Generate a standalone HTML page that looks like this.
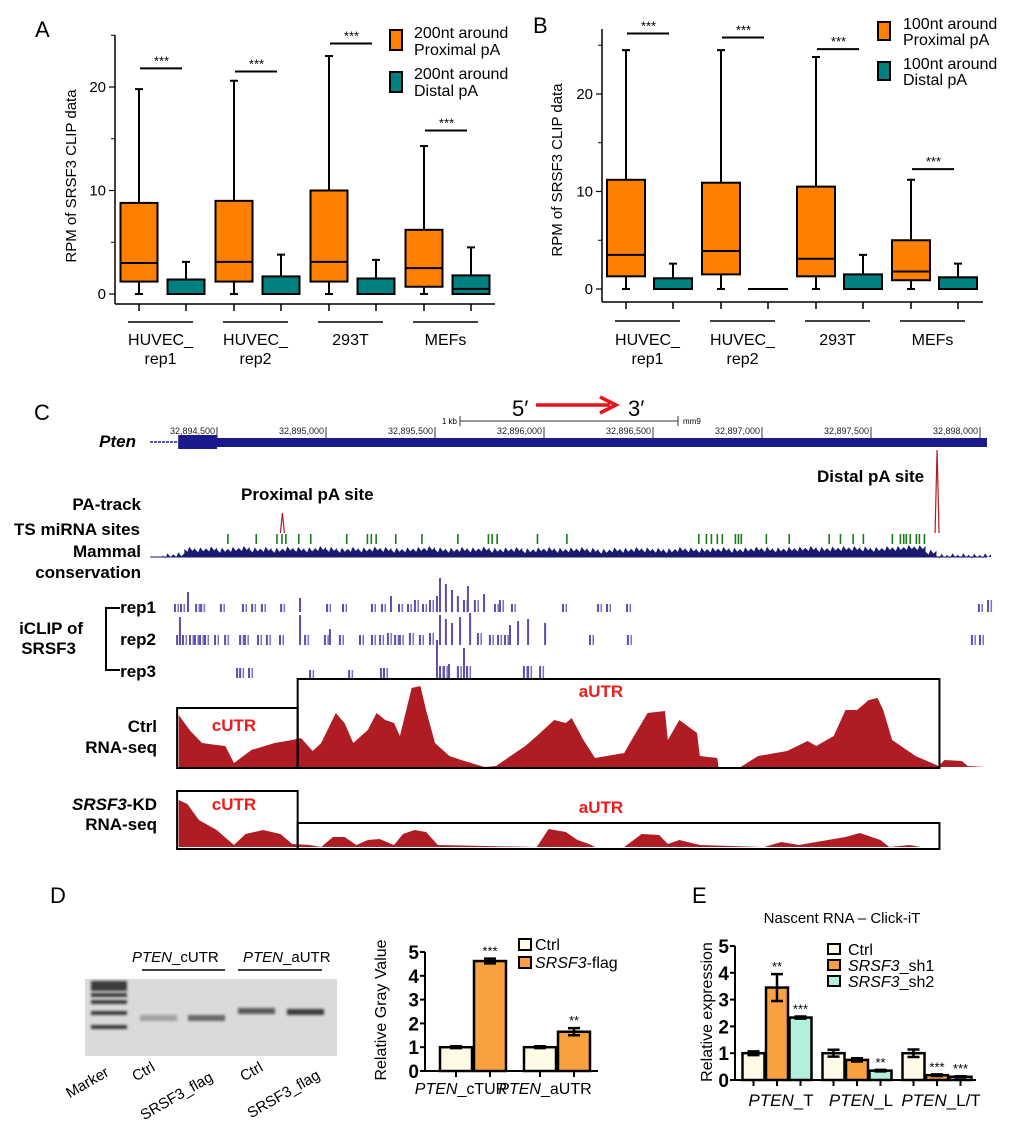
<!DOCTYPE html>
<html><head><meta charset="utf-8"><style>
body{margin:0;background:#fff}
svg{display:block;font-family:"Liberation Sans",Arial,sans-serif}
.b{font-weight:bold}
</style></head><body>
<svg id="fig" width="1020" height="1139" viewBox="0 0 1020 1139" xmlns="http://www.w3.org/2000/svg">
<defs><filter id="blur" x="-20%" y="-50%" width="140%" height="200%"><feGaussianBlur stdDeviation="1.2"/></filter></defs>
<text x="35" y="37" font-size="22">A</text>
<text x="533" y="33" font-size="22">B</text>
<text x="34" y="420" font-size="22">C</text>
<text x="50" y="903" font-size="22">D</text>
<text x="692" y="903" font-size="22">E</text>

<text transform="translate(76,176) rotate(-90)" text-anchor="middle" font-size="15">RPM of SRSF3 CLIP data</text>
<g>
<rect x="390" y="30" width="12" height="20" fill="#ff8000" stroke="#000" stroke-width="2"/>
<text font-size="16"><tspan x="414" y="38">200nt around</tspan><tspan x="414" y="55">Proximal pA</tspan></text>
<rect x="390" y="72" width="12" height="20" fill="#008080" stroke="#000" stroke-width="2"/>
<text font-size="16"><tspan x="414" y="79">200nt around</tspan><tspan x="414" y="96">Distal pA</tspan></text>
</g>
<text transform="translate(562,170) rotate(-90)" text-anchor="middle" font-size="15">RPM of SRSF3 CLIP data</text>
<g>
<rect x="878" y="22" width="12" height="18" fill="#ff8000" stroke="#000" stroke-width="2"/>
<text font-size="16"><tspan x="903" y="29">100nt around</tspan><tspan x="903" y="45">Proximal pA</tspan></text>
<rect x="878" y="62" width="12" height="18" fill="#008080" stroke="#000" stroke-width="2"/>
<text font-size="16"><tspan x="903" y="69">100nt around</tspan><tspan x="903" y="85">Distal pA</tspan></text>
</g>

<g class="b" font-size="17" text-anchor="end">
<text x="136" y="447" font-style="italic">Pten</text>
<text x="141" y="510">PA-track</text>
<text x="140" y="535">TS miRNA sites</text>
<text x="141" y="557">Mammal</text>
<text x="141" y="578">conservation</text>
<text x="156" y="613">rep1</text>
<text x="156" y="645">rep2</text>
<text x="156" y="677">rep3</text>
<text x="83" y="634">iCLIP of</text>
<text x="76" y="654">SRSF3</text>
<text x="157" y="732">Ctrl</text>
<text x="157" y="753">RNA-seq</text>
<text x="157" y="810"><tspan font-style="italic">SRSF3</tspan>-KD</text>
<text x="157" y="830">RNA-seq</text>
</g>
<path d="M120,608 H106 V670 H120" fill="none" stroke="#000" stroke-width="2"/>
<text x="241" y="500" class="b" font-size="17">Proximal pA site</text>
<text x="817" y="482" class="b" font-size="17">Distal pA site</text>
<text x="512" y="416" font-size="22">5′</text>
<text x="628" y="416" font-size="22">3′</text>
<g>
<line x1="536" y1="405" x2="610" y2="405" stroke="#e8141c" stroke-width="3.5"/>
<path d="M600,397 L616,405 L600,413" fill="none" stroke="#e8141c" stroke-width="3.5"/>
</g>
<g>
<line x1="460" y1="421" x2="678" y2="421" stroke="#333" stroke-width="1"/>
<line x1="460" y1="416" x2="460" y2="426" stroke="#333"/><line x1="678" y1="416" x2="678" y2="426" stroke="#333"/>
<text x="457" y="424" font-size="8" text-anchor="end">1 kb</text>
<text x="683" y="424" font-size="8">mm9</text>
</g>

<g>
<rect x="85" y="979" width="252" height="77" fill="#dadada"/>
</g>
<g font-size="15">
<text x="132" y="962"><tspan font-style="italic">PTEN</tspan>_cUTR</text>
<text x="243" y="962"><tspan font-style="italic">PTEN</tspan>_aUTR</text>
<line x1="142" y1="970" x2="225" y2="970" stroke="#000" stroke-width="1.5"/>
<line x1="238" y1="970" x2="322" y2="970" stroke="#000" stroke-width="1.5"/>
</g>
<g font-size="15" text-anchor="end">
<text transform="translate(110,1075) rotate(-30)">Marker</text>
<text transform="translate(156,1070) rotate(-30)">Ctrl</text>
<text transform="translate(214,1080) rotate(-30)">SRSF3_flag</text>
<text transform="translate(264,1070) rotate(-30)">Ctrl</text>
<text transform="translate(321,1078) rotate(-30)">SRSF3_flag</text>
</g>
<text transform="translate(386,1010) rotate(-90)" text-anchor="middle" font-size="16">Relative Gray Value</text>
<g>
<rect x="519" y="939" width="12" height="11" fill="#fffbe6" stroke="#000" stroke-width="2"/>
<text x="535" y="950" font-size="16">Ctrl</text>
<rect x="519" y="957" width="12" height="11" fill="#f9a040" stroke="#000" stroke-width="2"/>
<text x="535" y="968" font-size="16"><tspan font-style="italic">SRSF3</tspan>-flag</text>
</g>
<text x="842" y="923" text-anchor="middle" font-size="15">Nascent RNA – Click-iT</text>
<text transform="translate(712,1012) rotate(-90)" text-anchor="middle" font-size="16">Relative expression</text>
<g>
<rect x="828" y="944" width="12" height="10" fill="#fffbe6" stroke="#000" stroke-width="2"/>
<text x="848" y="955" font-size="16">Ctrl</text>
<rect x="828" y="960" width="12" height="10" fill="#f9a040" stroke="#000" stroke-width="2"/>
<text x="848" y="971" font-size="16"><tspan font-style="italic">SRSF3</tspan>_sh1</text>
<rect x="828" y="976" width="12" height="10" fill="#b2f0dc" stroke="#000" stroke-width="2"/>
<text x="848" y="987" font-size="16"><tspan font-style="italic">SRSF3</tspan>_sh2</text>
</g>
</svg>
<script>
const A_groups1 = ['HUVEC_','HUVEC_','293T','MEFs'];
const A_groups2 = ['rep1','rep2','',''];
const A_prox_min = [0,0,0,0];
const A_prox_q1 = [1.2,1.2,1.2,0.7];
const A_prox_med = [3.0,3.1,3.1,2.5];
const A_prox_q3 = [8.8,9.0,10.0,6.2];
const A_prox_max = [19.8,20.6,23.0,14.3];
const A_dist_min = [0,0,0,0];
const A_dist_q1 = [0,0,0,0];
const A_dist_med = [0,0,0,0.5];
const A_dist_q3 = [1.4,1.7,1.5,1.8];
const A_dist_max = [3.1,3.8,3.3,4.5];
const A_sig = [21.8,21.5,24.2,15.8];
const A_ticks = [0,10,20];
const B_groups1 = ['HUVEC_','HUVEC_','293T','MEFs'];
const B_groups2 = ['rep1','rep2','',''];
const B_prox_min = [0,0,0,0];
const B_prox_q1 = [1.3,1.5,1.3,0.9];
const B_prox_med = [3.5,3.9,3.1,1.8];
const B_prox_q3 = [11.2,10.9,10.5,5.0];
const B_prox_max = [24.5,24.5,23.8,11.2];
const B_dist_min = [0,0,0,0];
const B_dist_q1 = [0,0,0,0];
const B_dist_med = [0,0,0,0];
const B_dist_q3 = [1.1,0,1.5,1.2];
const B_dist_max = [2.6,0,3.5,2.6];
const B_sig = [26.2,25.8,24.6,12.3];
const B_ticks = [0,10,20];
const C_coordTicks = [32894500,32895000,32895500,32896000,32896500,32897000,32897500,32898000];
const C_mirna = [50,180,275,298,316,375,430,595,690,708,730,820,940,1105,1245,1262,1285,1470,1605,2210,2245,2268,2295,2318,2378,2392,2405,2520,2625,2808,2860,2918,2965,3098,3135,3150,3162,3180,3208,3222,3245];
const C_pa_pos = [300,3303];
const C_pa_val = [20,83];
const C_cons = [0.2,0.3,0.9,0.85,0.95,0.8,0.9,1,0.85,0.9,0.8,0.95,0.9,0.85,1,0.9,0.8,0.9,0.85,0.95,0.9,0.8,0.85,0.9,1,0.85,0.8,0.9,0.85,0.95,0.8,0.85,0.9,0.75,0.85,0.9,0.8,0.85,0.9,0.8,0.7,0.85,0.8,0.9,0.85,0.8,0.75,0.9,0.85,0.8,0.85,0.9,0.8,0.85,0.95,0.9,0.85,0.9,0.95,1,0.9,0.95,1,1,0.95,0.9,1,1,1.1,1.1,0.6,0.15,0.2,0.2,0.15,0.2];
const rep1_pos = [-193,-165,-133,-96,-73,18,119,161,206,294,381,505,578,711,757,798,835,876,908,945,977,1009,1023,1050,1078,1105,1133,1151,1183,1225,1275,1298,1353,1587,1748,1789,1881,3495,3537];
const rep1_cnt = [2,2,5,2,2,2,2,2,2,2,3.5,2,2,2,2,4,2,2,3,2,3,4,8.5,7,5.5,4,3,6.5,3,4.5,2,3,2,2,2,2,2,2,3];
const rep2_pos = [-183,-170,-156,-124,-101,-78,-55,-9,37,106,128,188,229,289,381,404,495,518,564,656,711,748,784,817,839,885,931,977,1023,1050,1078,1115,1161,1197,1252,1289,1321,1344,1381,1427,1505,1711,1885,3463,3500];
const rep2_cnt = [2.5,7,2.5,2.5,2.5,2.5,2.5,2.5,2.5,2.5,2.5,2.5,2.5,2.5,7.5,2.5,2.5,4,2.5,2.5,2.5,2.5,3,2.5,2.5,3,2.5,3,7.5,6.5,5.5,7,8,3,2.5,2.5,2.5,5,6,6.5,5.5,2.5,2.5,2.5,2.5];
const rep3_pos = [92,106,147,427,606,752,766,1009,1023,1041,1064,1105,1133,1147,1408,1427,1482];
const rep3_cnt = [2.5,2.5,2.5,2,2,2.5,2.5,9.5,3,3,3.5,3,7.5,3,3,3,3];
const ctrl_pos = [-176,-122,-69,-2,38,78,158,265,345,385,439,478,545,585,625,692,732,772,812,839,893,933,959,1000,1066,1120,1227,1280,1414,1467,1547,1600,1627,1681,1734,1868,1894,1975,2055,2068,2121,2202,2215,2295,2300,2402,2482,2615,2709,2749,2829,2883,2936,2990,3030,3056,3097,3204,3310,3337,3417,3444,3524];
const ctrl_cov = [52,36,24,22,21,4,17,24,27,29,16,24,54,44,24,37,54,47,44,31,79,81,57,24,11,7,0,1,21,31,47,44,49,27,9,14,24,54,56,27,47,34,11,9,0,0,11,16,26,21,31,57,57,67,69,57,27,11,1,7,6,1,0];
const kd_pos = [-176,-136,-83,-2,78,131,211,291,345,425,478,532,585,639,692,746,812,853,906,959,1013,1467,1521,1600,1654,1707,1734,1868,1948,2028,2068,2121,2215,2509,2589,2669,2883,2949,3043,3084,3176,3230];
const kd_cov = [47,43,27,17,2,13,17,13,3,2,0,10,10,2,7,8,2,13,17,15,2,0,18,15,7,3,0,0,13,12,3,7,2,0,5,2,10,14,7,0,2,0];
const D_cats = ['cTUR','aUTR'];
const D_ctrl = [1.0,1.0];
const D_ctrl_err = [0.04,0.04];
const D_flag = [4.62,1.65];
const D_flag_err = [0.1,0.15];
const D_stars = ['***','**'];
const D_ticks = [0,1,2,3,4,5];
const gel_marker = [983,988,995,1002,1013,1027];
const gel_band_y = [1018,1018,1011,1012];
const gel_band_int = [0.3,0.6,0.7,0.85];
const E_cats = ['T','L','L/T'];
const E_ctrl = [1.0,1.0,1.0];
const E_sh1 = [3.45,0.75,0.18];
const E_sh2 = [2.33,0.35,0.12];
const E_ctrl_err = [0.07,0.13,0.14];
const E_sh1_err = [0.5,0.06,0.03];
const E_sh2_err = [0.04,0.03,0.02];
const E_stars_sh1 = ['**','','***'];
const E_stars_sh2 = ['***','**','***'];
const E_ticks = [0,1,2,3,4,5];

const NS='http://www.w3.org/2000/svg';
const svg=document.getElementById('fig');
function mk(tag,attrs,parent){const e=document.createElementNS(NS,tag);for(const k in attrs)e.setAttribute(k,attrs[k]);(parent||svg).appendChild(e);return e;}

function boxPanel(P){
  const y=v=>P.y0-v*P.unit;
  const g=mk('g',{});
  
  
  const ya=mk('line',{x1:P.ax,y1:P.top,x2:P.ax,y2:P.xb,stroke:'#000','stroke-width':1.5},g);
  
  
  const xa=mk('line',{x1:P.ax,y1:P.xb,x2:P.right,y2:P.xb,stroke:'#000','stroke-width':1.5},g);
  
  
  P.ticks.forEach(v=>{
    mk('line',{x1:P.ax-6,y1:y(v),x2:P.ax,y2:y(v),stroke:'#000','stroke-width':1.2},g);
    const t=mk('text',{x:P.ax-9,y:y(v)+5,'text-anchor':'end','font-size':15},g);
    t.textContent=v;
    
    
  });
  [5,15,25].forEach(v=>{mk('line',{x1:P.ax-4,y1:y(v),x2:P.ax,y2:y(v),stroke:'#000','stroke-width':1},g);});
  const S=[P.prox,P.dist];
  for(let i=0;i<P.g1.length;i++){
    for(let s=0;s<2;s++){
      const st=S[s], cx=P.x0+i*P.step+s*P.pair, hw=P.hw;
      const wk=mk('path',{d:`M${cx},${y(st.max[i])}V${y(st.q3[i])}M${cx},${y(st.q1[i])}V${y(st.min[i])}M${cx-4},${y(st.max[i])}H${cx+4}M${cx-4},${y(st.min[i])}H${cx+4}`,stroke:'#000','stroke-width':2,fill:'none'},g);
      
      
      const h=Math.max(y(st.q1[i])-y(st.q3[i]),0.01);
      const r=mk('rect',{x:cx-hw,y:y(st.q3[i]),width:hw*2,height:h,fill:s?'#008080':'#ff8000',stroke:'#000','stroke-width':2},g);
      
      
      const m=mk('line',{x1:cx-hw,y1:y(st.med[i]),x2:cx+hw,y2:y(st.med[i]),stroke:'#000','stroke-width':2},g);
      
      
      mk('line',{x1:cx,y1:P.xb,x2:cx,y2:P.xb+7,stroke:'#000','stroke-width':1.5},g);
    }
    const c0=P.x0+i*P.step, c1=c0+P.pair;
    const sl=mk('line',{x1:c0+1,y1:y(P.sig[i]),x2:c1-4,y2:y(P.sig[i]),stroke:'#000','stroke-width':2},g);
    
    
    const st=mk('text',{x:(c0+c1)/2-1,y:y(P.sig[i])-3,'text-anchor':'middle','font-size':13},g);
    st.textContent='***';
    
    
    const ul=mk('line',{x1:c0-11,y1:P.ul,x2:c1+7,y2:P.ul,stroke:'#000','stroke-width':1.5},g);
    
    
    const gl=mk('text',{x:(c0+c1)/2-2,y:P.lb,'text-anchor':'middle','font-size':16},g);
    gl.textContent=P.g1[i];
    
    
    if(P.g2[i]){const g2=mk('text',{x:(c0+c1)/2-2,y:P.lb+19,'text-anchor':'middle','font-size':16},g);
      g2.textContent=P.g2[i];
      
      }
  }
}
boxPanel({id:'a',y0:294,unit:10.35,ax:115,top:35,xb:304,right:495,x0:139,step:95,pair:47,hw:18.5,ul:322,lb:345,
  g1:A_groups1,g2:A_groups2,ticks:A_ticks,sig:A_sig,
  prox:{min:A_prox_min,q1:A_prox_q1,med:A_prox_med,q3:A_prox_q3,max:A_prox_max},
  dist:{min:A_dist_min,q1:A_dist_q1,med:A_dist_med,q3:A_dist_q3,max:A_dist_max}});
boxPanel({id:'b',y0:289,unit:9.75,ax:602,top:29,xb:302,right:983,x0:626,step:95,pair:47,hw:19,ul:321,lb:345,
  g1:B_groups1,g2:B_groups2,ticks:B_ticks,sig:B_sig,
  prox:{min:B_prox_min,q1:B_prox_q1,med:B_prox_med,q3:B_prox_q3,max:B_prox_max},
  dist:{min:B_dist_min,q1:B_dist_q1,med:B_dist_med,q3:B_dist_q3,max:B_dist_max}});

const xg=bp=>217+bp*109/500;
(function(){
  const g=mk('g',{});
  
  
  C_coordTicks.forEach(c=>{
    const x=xg(c-32894500);
    mk('line',{x1:x,y1:427,x2:x,y2:438,stroke:'#333','stroke-width':1},g);
    const t=mk('text',{x:x-2,y:434,'text-anchor':'end','font-size':9,fill:'#222'},g);
    t.textContent=c.toLocaleString('en-US');
    
    
  });
  const gl=mk('line',{x1:xg(-307),y1:442,x2:xg(-160),y2:442,stroke:'#1a1a8c','stroke-width':1.5,'stroke-dasharray':'3,1'},g);
  
  
  const ex=mk('rect',{x:xg(-178),y:435,width:xg(0)-xg(-178),height:14,fill:'#1a1a8c'},g);
  
  
  const ut=mk('rect',{x:xg(0),y:438,width:xg(3532)-xg(0),height:9,fill:'#1a1a8c'},g);
  
  
  C_pa_pos.forEach((p,i)=>{
    const x=xg(p);
    const pk=mk('path',{d:`M${x-2},533 L${x},${533-C_pa_val[i]} L${x+2},533`,stroke:'#b01c24','stroke-width':1.2,fill:'none'},g);
    
    
  });
  C_mirna.forEach(p=>{
    const l=mk('line',{x1:xg(p),y1:534,x2:xg(p),y2:544,stroke:'#1a7a1a','stroke-width':1.6},g);
    
    
  });
  let d=`M${xg(-250)},557`;
  C_cons.forEach((v,i)=>{const x=xg(-250+i*50);d+=` L${x},${557-v*9} L${x+3},${557-v*9+3} L${x+5},${557-v*9-2} L${x+8},${557-v*9+2} L${x+11},${557-v*9-1}`;});
  d+=` L${xg(-250+(C_cons.length-1)*50)+11},557 Z`;
  const cp=mk('path',{d:d,fill:'#1a1a6e'},g);
  
  
  mk('line',{x1:xg(-307),y1:557,x2:xg(3532),y2:557,stroke:'#1a1a6e','stroke-width':1},g);
  [[rep1_pos,rep1_cnt,612,'rep1'],[rep2_pos,rep2_cnt,645,'rep2'],[rep3_pos,rep3_cnt,678,'rep3']].forEach(([P,C,b,n])=>{
    P.forEach((p,i)=>{
      const x=xg(p);
      const r=mk('rect',{x:x-1,y:b-C[i]*4,width:2,height:C[i]*4,fill:'#5a4fb0'},g);
      
      
      if(C[i]<=3){mk('rect',{x:x+2.5,y:b-C[i]*4,width:1.5,height:C[i]*4,fill:'#7a70c4'},g);}
    });
  });
  function cov(P,V,base,name){
    let dd=`M${xg(P[0])},${base}`;
    P.forEach((p,i)=>{dd+=` L${xg(p)},${base-V[i]}`;});
    dd+=` L${xg(P[P.length-1])},${base} Z`;
    const c=mk('path',{d:dd,fill:'#b01c24'},g);
    
    
  }
  cov(ctrl_pos,ctrl_cov,767,'ctrl-coverage');
  cov(kd_pos,kd_cov,847,'kd-coverage');
  function box(x1,y1,x2,y2,name){
    const r=mk('rect',{x:x1,y:y1,width:x2-x1,height:y2-y1,fill:'none',stroke:'#000','stroke-width':2},g);
    
    
  }
  box(xg(-183),708,xg(370),768,'ctrl-cutr-box');
  box(xg(370),679,xg(3314),768,'ctrl-autr-box');
  box(xg(-183),791,xg(370),849,'kd-cutr-box');
  box(xg(370),823,xg(3314),849,'kd-autr-box');
  [['cUTR',234,731],['aUTR',601,697],['cUTR',234,810],['aUTR',601,813]].forEach(([t,x,yy])=>{
    const e=mk('text',{x:x,y:yy,'text-anchor':'middle','font-size':17,'font-weight':'bold',fill:'#ee1c1c'},g);
    e.textContent=t;
    
    
  });
})();

(function(){
  const g=mk('g',{filter:'url(#blur)'});
  
  
  gel_marker.forEach((yy,i)=>{
    const b=mk('rect',{x:91,y:yy-2,width:36,height:i<2?5:4,fill:'#222',opacity:0.85},g);
    
    
  });
  const lanes=[140,188,238,287];
  gel_band_y.forEach((yy,i)=>{
    const b=mk('rect',{x:lanes[i],y:yy-3,width:37,height:6,fill:'#222',opacity:gel_band_int[i]},g);
    
    
  });
})();

function barChart(Q){
  const y=v=>Q.y0-v*Q.unit;
  const g=mk('g',{});
  
  
  const ya=mk('line',{x1:Q.ax,y1:y(5),x2:Q.ax,y2:Q.y0,stroke:'#000','stroke-width':2},g);
  
  
  const xa=mk('line',{x1:Q.ax,y1:Q.y0,x2:Q.right,y2:Q.y0,stroke:'#000','stroke-width':2},g);
  
  
  Q.ticks.forEach(v=>{
    mk('line',{x1:Q.ax-5,y1:y(v),x2:Q.ax,y2:y(v),stroke:'#000','stroke-width':2},g);
    const t=mk('text',{x:Q.ax-6,y:y(v)+7,'text-anchor':'end','font-size':19,'font-weight':'bold'},g);
    t.textContent=v;
    
    
  });
  Q.series.forEach((S,s)=>{
    S.vals.forEach((v,i)=>{
      const cx=Q.c0+i*Q.step+(s-Q.mid)*Q.off;
      const r=mk('rect',{x:cx-Q.w/2,y:y(v),width:Q.w,height:v*Q.unit,fill:S.color,stroke:'#000','stroke-width':2.5},g);
      
      
      const e=S.err[i];
      const eb=mk('path',{d:`M${cx},${y(v-e)}V${y(v+e)}M${cx-6},${y(v+e)}H${cx+6}M${cx-6},${y(v-e)}H${cx+6}`,stroke:'#000','stroke-width':2.5,fill:'none'},g);
      
      
      mk('line',{x1:cx,y1:Q.y0,x2:cx,y2:Q.y0+6,stroke:'#000','stroke-width':2},g);
      if(S.stars&&S.stars[i]){
        const t=mk('text',{x:cx,y:y(v+e)-3,'text-anchor':'middle','font-size':13},g);
        t.textContent=S.stars[i];
        
        
      }
    });
  });
  Q.cats.forEach((c,i)=>{
    const t=mk('text',{x:Q.c0+i*Q.step+Q.lx,y:Q.ly,'text-anchor':'middle','font-size':Q.fs},g);
    
    
    const it=mk('tspan',{'font-style':'italic'},t);
    it.textContent='PTEN';
    const rs=mk('tspan',{},t);
    rs.textContent='_'+c;
  });
}
barChart({id:'d',y0:1071,unit:23.8,ax:425,right:598,c0:473,step:84,off:34,mid:0.5,w:32,ticks:D_ticks,cats:D_cats,lx:-12,ly:1094,fs:16,
  series:[{name:'ctrl',vals:D_ctrl,err:D_ctrl_err,color:'#fffbe6'},{name:'flag',vals:D_flag,err:D_flag_err,color:'#f9a040',stars:D_stars}]});
barChart({id:'e',y0:1080,unit:26.8,ax:735,right:976,c0:777,step:80,off:23.5,mid:1,w:22,ticks:E_ticks,cats:E_cats,lx:4,ly:1106,fs:17,
  series:[{name:'ctrl',vals:E_ctrl,err:E_ctrl_err,color:'#fffbe6'},{name:'sh1',vals:E_sh1,err:E_sh1_err,color:'#f9a040',stars:E_stars_sh1},{name:'sh2',vals:E_sh2,err:E_sh2_err,color:'#b2f0dc',stars:E_stars_sh2}]});
</script>
</body></html>
